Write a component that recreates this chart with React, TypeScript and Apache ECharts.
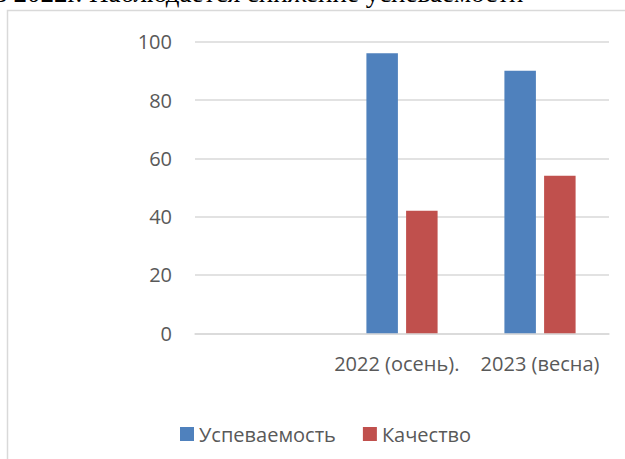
import React, { useEffect, useRef } from "react";
import * as echarts from "echarts";

const categories = ["", "2022 (осень).  ", "2023 (весна)"];
const seriesNames = ["Успеваемость", "Качество"];
const uspevaemost = [null, 96, 90];
const kachestvo = [null, 42, 54];
const yTicks = { min: 0, max: 100, interval: 20 };
const headingText = "в 2022г. Наблюдается снижение успеваемости";

export default function App() {
  const ref = useRef<HTMLDivElement>(null);
  useEffect(() => {
    if (!ref.current) return;
    const chart = echarts.init(ref.current, null, { renderer: "svg" });
    const textColor = "#595959";
    const font = "'Open Sans', 'Noto Sans', sans-serif";
    chart.setOption({
      animation: false,
      backgroundColor: "#ffffff",
      graphic: [
        {
          type: "rect",
          shape: { x: 7.5, y: 10.5, width: 700, height: 600 },
          style: { fill: "none", stroke: "#D9D9D9", lineWidth: 1.5 },
          silent: true,
        },
        {
          type: "text",
          x: -6,
          y: 6,
          style: {
            text: headingText,
            font: "27px 'Liberation Serif', 'Times New Roman', serif",
            fill: "#000000",
            textVerticalAlign: "bottom",
            verticalAlign: "bottom",
          },
          silent: true,
        },
      ],
      grid: { left: 195, right: 16, top: 41.7, bottom: 125.7, containLabel: false },
      legend: {
        data: seriesNames,
        left: 175,
        top: 419,
        icon: "rect",
        itemWidth: 14,
        itemHeight: 14,
        itemGap: 27,
        textStyle: { color: textColor, fontSize: 20, fontFamily: font },
      },
      xAxis: {
        type: "category",
        data: categories,
        axisLine: { show: true, lineStyle: { color: "#D9D9D9", width: 1.5 } },
        axisTick: { show: false },
        axisLabel: { color: textColor, fontSize: 20, fontFamily: font, margin: 20, interval: 0 },
      },
      yAxis: {
        type: "value",
        min: yTicks.min,
        max: yTicks.max,
        interval: yTicks.interval,
        axisLine: { show: false },
        axisTick: { show: false },
        axisLabel: { color: textColor, fontSize: 20, fontFamily: font, margin: 23 },
        splitLine: { lineStyle: { color: "#D9D9D9", width: 1.5 } },
      },
      series: [
        {
          name: seriesNames[0],
          type: "bar",
          data: uspevaemost,
          barWidth: 31.5,
          barGap: "26%",
          itemStyle: { color: "#4F81BD" },
        },
        {
          name: seriesNames[1],
          type: "bar",
          data: kachestvo,
          barWidth: 31.5,
          itemStyle: { color: "#C0504D" },
        },
      ],
    });
    return () => chart.dispose();
  }, []);
  return (
    <div
      ref={ref}
      style={{ position: "absolute", left: 0, top: 0, width: 625, height: 459 }}
    />
  );
}
